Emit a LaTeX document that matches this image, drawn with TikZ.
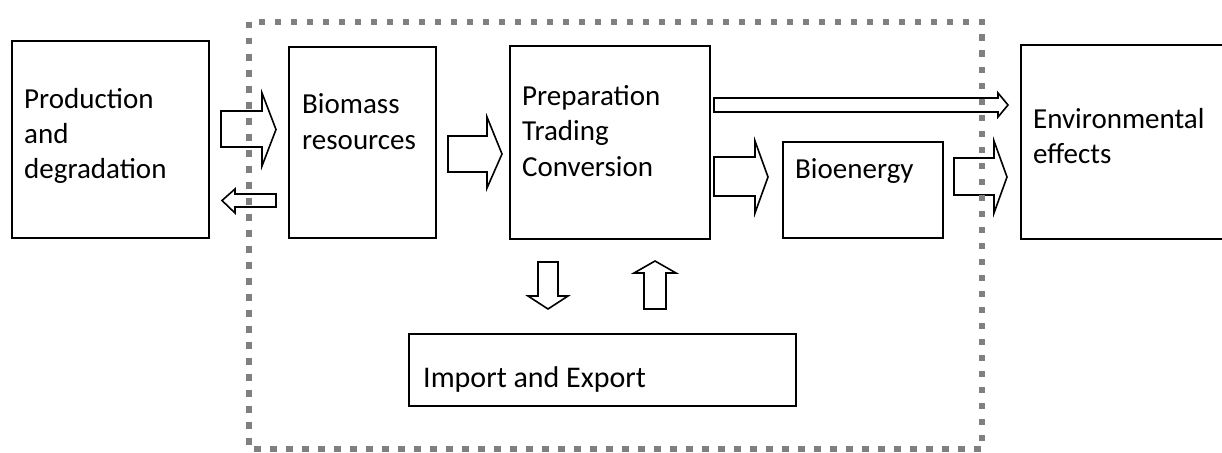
\documentclass[tikz,border=0pt]{standalone}
\usepackage{fontspec}
\setmainfont{Carlito}
\begin{document}
\begin{tikzpicture}[x=1pt,y=-1pt,
  box/.style={draw=black,line width=2pt,fill=white,inner sep=0pt,anchor=north west},
  lbl/.style={inner sep=0pt,anchor=base west,font=\fontsize{29}{34}\selectfont},
  lblb/.style={inner sep=0pt,anchor=base west,font=\fontsize{30}{36}\selectfont},
  barrow/.style={draw=black,line width=1.6pt,fill=white,line join=miter},
  border/.style={draw={rgb,255:red,128;green,128;blue,128},line width=6.5pt,dash pattern=on 6.5pt off 9.5pt}
]
\useasboundingbox (0,0) rectangle (1222,452);
% boxes
\node[box,minimum width=197pt,minimum height=197pt] (prod) at (11,40) {};
\node[box,minimum width=147pt,minimum height=191pt] (bio) at (288,46) {};
\node[box,minimum width=200pt,minimum height=193pt] (prep) at (509,45) {};
\node[box,minimum width=160pt,minimum height=96pt] (bioe) at (782,141) {};
\node[box,draw=none,minimum width=215pt,minimum height=192pt] (env) at (1021,45) {};
\draw[line width=2pt] (env.north east) -- (env.north west) -- (env.south west) -- (env.south east);
\node[box,minimum width=387pt,minimum height=72pt] (imp) at (408,333) {};
% labels
\node[lbl] (t1) at (24,108) {Production};
\node[lbl] (t2) at (24,143) {and};
\node[lbl] (t3) at (24,178) {degradation};
\node[lbl] (t4) at (302,113) {Biomass};
\node[lbl] (t5) at (302,149) {resources};
\node[lbl] (t6) at (522,105) {Preparation};
\node[lbl] (t7) at (522,140) {Trading};
\node[lbl] (t8) at (522,176) {Conversion};
\node[lbl] (t9) at (795,178) {Bioenergy};
\node[lbl] (t10) at (1033,128) {Environmental};
\node[lbl] (t11) at (1033,163) {effects};
\node[lblb] (t12) at (423,387) {Import and Export};
% block arrows
% production -> biomass
\draw[barrow] (221,111) -- (262,111) -- (262,93) -- (276,129.5) -- (262,166) -- (262,147) -- (221,147) -- cycle;
% biomass -> production (small)
\draw[barrow] (276,194) -- (235,194) -- (235,189) -- (222,200.5) -- (235,213) -- (235,207) -- (276,207) -- cycle;
% biomass -> preparation
\draw[barrow] (448,136) -- (487,136) -- (487,117) -- (502,154) -- (487,188) -- (487,172) -- (448,172) -- cycle;
% preparation -> environmental (long thin)
\draw[barrow] (714,98) -- (998,98) -- (998,93) -- (1008,105) -- (998,117) -- (998,112) -- (714,112) -- cycle;
% preparation -> bioenergy
\draw[barrow] (714,157) -- (755,157) -- (755,141) -- (768,177) -- (755,213) -- (755,196) -- (714,196) -- cycle;
% bioenergy -> environmental
\draw[barrow] (954,158) -- (994,158) -- (994,141) -- (1007,177) -- (994,213) -- (994,195) -- (954,195) -- cycle;
% down arrow (export)
\draw[barrow] (538,262) -- (558,262) -- (558,296) -- (568,296) -- (548,309) -- (528,296) -- (538,296) -- cycle;
% up arrow (import)
\draw[barrow] (644,309) -- (666,309) -- (666,273) -- (676,273) -- (655,261) -- (634,273) -- (644,273) -- cycle;
% dotted system border, drawn on top
\draw[border] (249,22) rectangle (982,449);
\end{tikzpicture}
\end{document}
